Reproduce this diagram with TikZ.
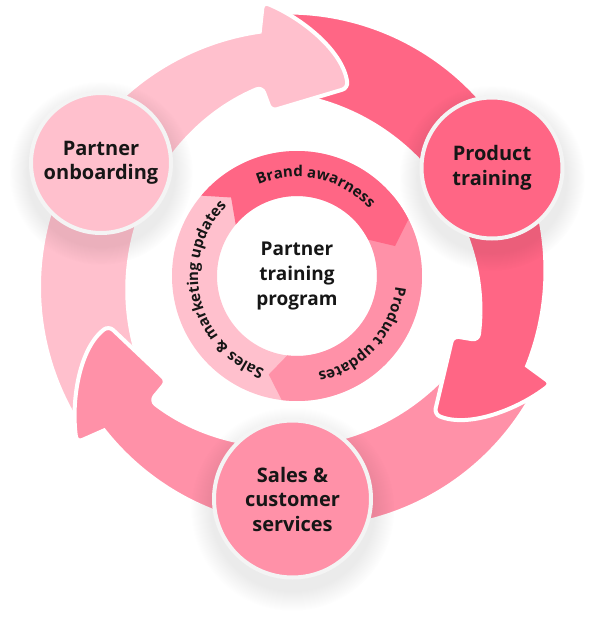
\documentclass[tikz,border=0pt]{standalone}
\usepackage{fontspec}
\IfFontExistsTF{Open Sans SemiBold}
  {\setmainfont{Open Sans}[BoldFont={Open Sans SemiBold}]}
  {\setmainfont{Open Sans}}
\usetikzlibrary{decorations.text,fadings}
\definecolor{pklight}{HTML}{FFC0CD}
\definecolor{pkmid}{HTML}{FF91A8}
\definecolor{pkdark}{HTML}{FF6685}
\definecolor{rimgray}{HTML}{F4F4F4}
\definecolor{inkblack}{HTML}{161616}

% one arrow of the outer cycle: tail at 212 deg, head near 75 deg
\newcommand{\cyclearrow}{%
  (-218.8,-147.7) arc[start angle=212, end angle=98.3, radius=258]
  [rounded corners=6pt] -- (-34,274) .. controls (5,258) and (46,225) .. (51,188)
  -- (-26,165) -- (-35,189) [sharp corners]
  arc[start angle=112.8, end angle=203, radius=220] -- cycle}

% #1 text, #2 start angle, #3 end angle (clockwise)
\newcommand{\ringtext}[3]{%
  \path[decorate, decoration={text along path, text align=center, text color=inkblack,
    text={|\fontsize{15}{15}\selectfont\bfseries|#1}}]
    (#2:99) arc[start angle=#2, end angle=#3, radius=99];}

\begin{document}
\begin{tikzpicture}[x=1pt, y=1pt,
  bubble/.style={circle, draw=rimgray, line width=4pt, inner sep=0pt, align=center,
    text=inkblack, font=\fontsize{20}{24.5}\selectfont\bfseries},
  softshadow/.style={black, opacity=0.08, path fading=circle with fuzzy edge 20 percent},
  arrowbody/.style={draw=white, line width=4pt}]
  \useasboundingbox (-297,-348) rectangle (298,276);
  % outer cycle
  \foreach \ang/\col in {-120/pkdark, 0/pklight, 120/pkmid}
    \fill[arrowbody, fill=\col, rotate=\ang] \cyclearrow;
  \begin{scope}
    \clip (0,0) -- (-12:330) arc[start angle=-12, end angle=-52, radius=330] -- cycle;
    \fill[arrowbody, fill=pkdark, rotate=-120] \cyclearrow;
  \end{scope}
  % stations
  \foreach \x/\y/\r in {-196/113/92, 195/108/93, -4.5/-223/102}
    \fill[softshadow] (\x,\y-10) circle[radius=\r];
  \node[bubble, fill=pklight, minimum size=140pt] (onboard) at (-196,113) {Partner\\onboarding};
  \node[bubble, fill=pkdark, minimum size=141pt] (prodtrain) at (195,108) {Product\\training};
  \node[bubble, fill=pkmid, minimum size=157pt] (sales) at (-4.5,-223) {Sales \&\\customer\\services};
  % inner ring
  \fill[pklight, even odd rule] (0,0) circle[radius=125] (0,0) circle[radius=80];
  \fill[pkmid] (40:125) arc[start angle=40, end angle=-97, radius=125] -- (-106:102.5)
    -- (-97:80) arc[start angle=-97, end angle=40, radius=80] -- cycle;
  \fill[pkdark] (140:125) arc[start angle=140, end angle=27, radius=125] -- (17:102.5)
    -- (27:80) arc[start angle=27, end angle=140, radius=80] -- (130:102.5) -- cycle;
  \ringtext{Brand awarness}{140}{16}
  \ringtext{Product updates}{24}{-108}
  \ringtext{Sales {\&} marketing updates}{265}{121}
  \node[text=inkblack, align=center, font=\fontsize{19}{25}\selectfont\bfseries] (hub) at (0,0)
    {Partner\\training\\program};
\end{tikzpicture}
\end{document}
